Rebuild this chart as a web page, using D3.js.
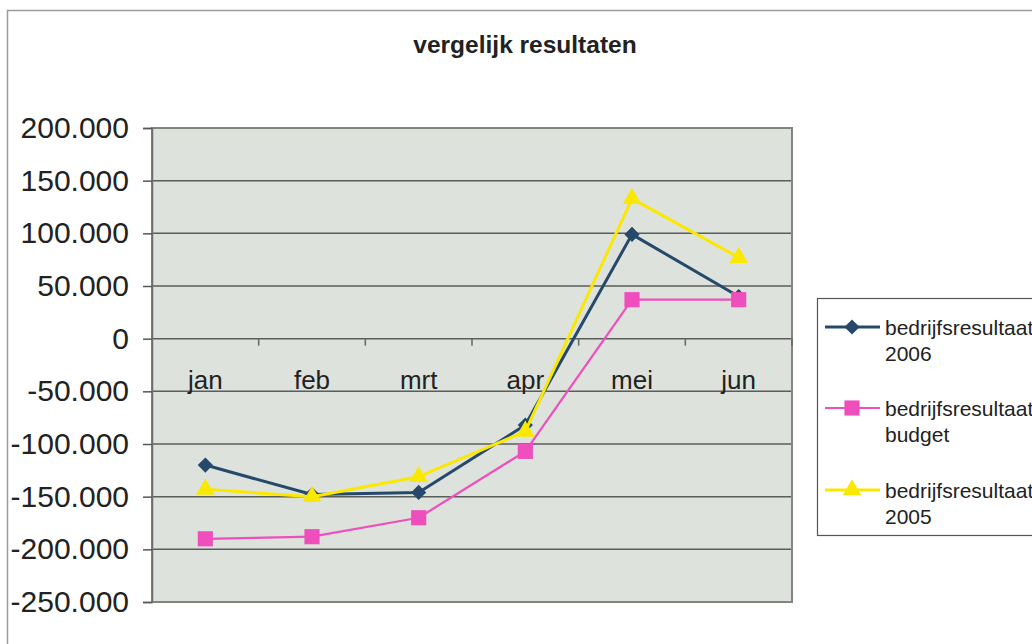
<!DOCTYPE html>
<html>
<head>
<meta charset="utf-8">
<script src="https://cdn.jsdelivr.net/npm/d3@7"></script>
<style>
  html, body { margin: 0; padding: 0; background: #ffffff; }
  svg { display: block; }
  text { font-family: "Liberation Sans", Arial, Helvetica, sans-serif; fill: #222; }
</style>
</head>
<body>
<svg id="chart" width="1032" height="644"></svg>
<script>
// ---- data ----
const categories = ["jan", "feb", "mrt", "apr", "mei", "jun"];
const yTicks = [200000, 150000, 100000, 50000, 0, -50000, -100000, -150000, -200000, -250000];
const series2006 = [-120000, -148000, -146000, -82000, 99000, 40000];
const seriesBudget = [-190000, -188000, -170000, -107000, 37000, 37000];
const series2005 = [-143000, -150000, -131000, -88000, 133000, 77000];
const seriesNames = [["bedrijfsresultaat", "2006"], ["bedrijfsresultaat", "budget"], ["bedrijfsresultaat", "2005"]];
const titleText = "vergelijk resultaten";

// ---- layout ----
const svg = d3.select("#chart");
const plot = { left: 152, top: 128, right: 792, bottom: 602 };

const x = d3.scaleBand().domain(categories).range([plot.left, plot.right]).paddingInner(0).paddingOuter(0);
const y = d3.scaleLinear().domain([-250000, 200000]).range([plot.bottom, plot.top]);

const fmt = v => v === 0 ? "0" : d3.format(",")(v).replace(/,/g, ".").replace("−", "-");

// outer chart border
svg.append("rect").attr("x", 7.5).attr("y", 10.5).attr("width", 1100).attr("height", 700)
  .attr("fill", "#fff").attr("stroke", "#9a9a9a").attr("stroke-width", 1.5);

// title
svg.append("text").attr("x", 525).attr("y", 53).attr("text-anchor", "middle")
  .style("font-weight", "bold").style("font-size", "24.5px").attr("fill", "#1a1a22")
  .text(titleText);

// plot background
svg.append("rect").attr("x", plot.left).attr("y", plot.top)
  .attr("width", plot.right - plot.left).attr("height", plot.bottom - plot.top)
  .attr("fill", "#dde2dc");

// gridlines
svg.append("g").selectAll("line").data(yTicks).join("line")
  .attr("x1", plot.left).attr("x2", plot.right)
  .attr("y1", d => y(d)).attr("y2", d => y(d))
  .attr("stroke", "#5b5d5b").attr("stroke-width", 1.5);

// plot border
svg.append("rect").attr("x", plot.left).attr("y", plot.top)
  .attr("width", plot.right - plot.left).attr("height", plot.bottom - plot.top)
  .attr("fill", "none").attr("stroke", "#7f877d").attr("stroke-width", 2);

// y axis
const yAxis = d3.axisLeft(y).tickValues(yTicks).tickSize(9).tickPadding(14).tickFormat(fmt);
const yg = svg.append("g").attr("transform", `translate(${plot.left},0)`).call(yAxis);
yg.select(".domain").attr("stroke", "#6a6f68").attr("stroke-width", 1.5);
yg.selectAll(".tick line").attr("stroke", "#555").attr("stroke-width", 1.5);
yg.selectAll(".tick text").style("font-size", "30px").attr("fill", "#222")
  .style("font-family", "'Liberation Sans', Arial, sans-serif");

// x axis at zero
const xAxis = d3.axisBottom(x).tickSize(0).tickPadding(0).tickFormat(d => d);
const xg = svg.append("g").attr("transform", `translate(0,${y(0)})`).call(xAxis);
xg.select(".domain").remove();
xg.selectAll(".tick text").attr("y", 50).attr("dy", 0).style("font-size", "26px").attr("fill", "#333")
  .style("font-family", "'Liberation Sans', Arial, sans-serif");
// boundary tick marks
const bounds = categories.slice(1).map(c => x(c)).concat([plot.right]);
svg.append("g").selectAll("line").data(bounds).join("line")
  .attr("x1", d => d).attr("x2", d => d).attr("y1", y(0)).attr("y2", y(0) + 7)
  .attr("stroke", "#666").attr("stroke-width", 1.5);

// series
const cx = c => x(c) + x.bandwidth() / 2;
const defs = [
  { data: series2006, color: "#25486b", width: 3, symbol: d3.symbolSquare, size: 115, rot: 45 },
  { data: seriesBudget, color: "#ef4fbd", width: 2.2, symbol: d3.symbolSquare, size: 230, rot: 0 },
  { data: series2005, color: "#fbe800", width: 3, symbol: d3.symbolTriangle, size: 150, rot: 0 }
];
const line = d3.line().x((d, i) => cx(categories[i])).y(d => y(d));

defs.forEach(s => {
  const g = svg.append("g");
  g.append("path").attr("d", line(s.data)).attr("fill", "none")
    .attr("stroke", s.color).attr("stroke-width", s.width).attr("stroke-linejoin", "round");
  g.selectAll("path.m").data(s.data).join("path").attr("class", "m")
    .attr("transform", (d, i) => `translate(${cx(categories[i])},${y(d)}) rotate(${s.rot})`)
    .attr("d", d3.symbol().type(s.symbol).size(s.size)())
    .attr("fill", s.color);
});

// legend
const lg = svg.append("g");
lg.append("rect").attr("x", 817.5).attr("y", 298.5).attr("width", 260).attr("height", 237)
  .attr("fill", "#fff").attr("stroke", "#555").attr("stroke-width", 1.2);
const legY = [327, 408, 490];
defs.forEach((s, i) => {
  const yy = legY[i];
  lg.append("line").attr("x1", 825).attr("x2", 880).attr("y1", yy).attr("y2", yy)
    .attr("stroke", s.color).attr("stroke-width", s.width);
  lg.append("path").attr("transform", `translate(852,${yy}) rotate(${s.rot})`)
    .attr("d", d3.symbol().type(s.symbol).size(s.size)()).attr("fill", s.color);
  lg.append("text").attr("x", 885).attr("y", yy + 8).style("font-size", "21px").attr("fill", "#222")
    .text(seriesNames[i][0]);
  lg.append("text").attr("x", 885).attr("y", yy + 34).style("font-size", "21px").attr("fill", "#222")
    .text(seriesNames[i][1]);
});
</script>
</body>
</html>
